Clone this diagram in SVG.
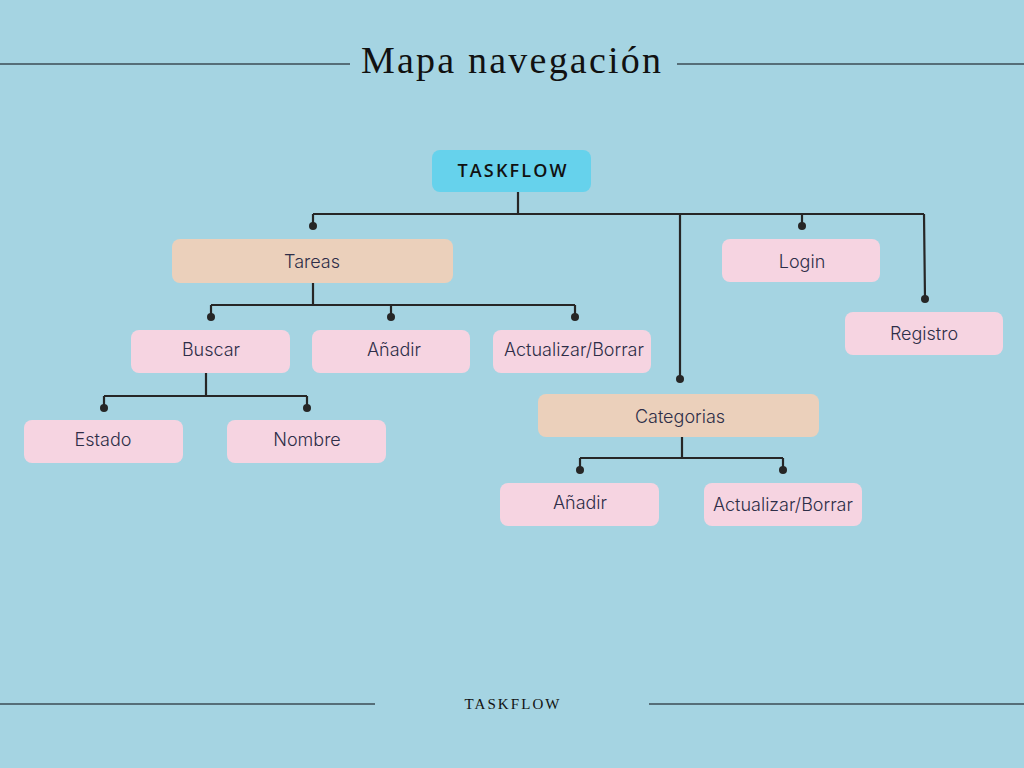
<svg xmlns="http://www.w3.org/2000/svg" width="1024" height="768" viewBox="0 0 1024 768">
<style>
.bg{fill:#a5d4e2}
.rule{stroke:#3d4d55;stroke-width:1.5}
.title{font-family:"Liberation Serif","DejaVu Serif",serif;fill:#111;text-anchor:middle}
.pink{fill:#f6d4e1}
.tan{fill:#ebd0bb}
.root{fill:#66d2ec}
.lbl{font-family:Inter,"Noto Sans",sans-serif;font-size:18px;font-weight:300;fill:#2e2e48;text-anchor:middle}
.rlbl{font-family:"Open Sans",Inter,sans-serif;font-size:18px;font-weight:600;fill:#111;text-anchor:middle}
.con{fill:none;stroke:#262626;stroke-width:2.2}
.dot{fill:#262626}
</style>
<rect class="bg" x="0" y="0" width="1024" height="768"/>
<line class="rule" x1="0" y1="64" x2="350" y2="64"/>
<line class="rule" x1="677" y1="64" x2="1024" y2="64"/>
<text class="title" x="511" y="73" font-size="38" textLength="300" lengthAdjust="spacing">Mapa navegación</text>
<line class="rule" x1="0" y1="704" x2="375" y2="704"/>
<line class="rule" x1="649" y1="704" x2="1024" y2="704"/>
<text class="title" x="512" y="709" font-size="15" textLength="95" lengthAdjust="spacing">TASKFLOW</text>

<g id="connectors">
<path class="con" d="M518,192 V214 M313,214 H924 M313,214 V226 M680,214 V379 M802,214 V226 M924,214 L925,299"/>
<circle class="dot" cx="313" cy="226" r="4"/>
<circle class="dot" cx="680" cy="379" r="4"/>
<circle class="dot" cx="802" cy="226" r="4"/>
<circle class="dot" cx="925" cy="299" r="4"/>
<path class="con" d="M313,283 V305 M211,305 H575 M211,305 V317 M391,305 V317 M575,305 V317"/>
<circle class="dot" cx="211" cy="317" r="4"/>
<circle class="dot" cx="391" cy="317" r="4"/>
<circle class="dot" cx="575" cy="317" r="4"/>
<path class="con" d="M206,373 V396 M104,396 H307 M104,396 V408 M307,396 V408"/>
<circle class="dot" cx="104" cy="408" r="4"/>
<circle class="dot" cx="307" cy="408" r="4"/>
<path class="con" d="M682,437 V458 M580,458 H783 M580,458 V470 M783,458 V470"/>
<circle class="dot" cx="580" cy="470" r="4"/>
<circle class="dot" cx="783" cy="470" r="4"/>
</g>

<g id="n-taskflow"><rect class="root" x="432" y="150" width="159" height="42" rx="8"/><text class="rlbl" x="512" y="177" textLength="109" lengthAdjust="spacing">TASKFLOW</text></g>
<g id="n-tareas"><rect class="tan" x="172" y="239" width="281" height="44" rx="8"/><text class="lbl" x="312" y="268">Tareas</text></g>
<g id="n-buscar"><rect class="pink" x="131" y="330" width="159" height="43" rx="8"/><text class="lbl" x="211" y="356">Buscar</text></g>
<g id="n-anadir1"><rect class="pink" x="312" y="330" width="158" height="43" rx="8"/><text class="lbl" x="394" y="356">Añadir</text></g>
<g id="n-actualizar1"><rect class="pink" x="493" y="330" width="158" height="43" rx="8"/><text class="lbl" x="574" y="356">Actualizar/Borrar</text></g>
<g id="n-estado"><rect class="pink" x="24" y="420" width="159" height="43" rx="8"/><text class="lbl" x="103" y="446">Estado</text></g>
<g id="n-nombre"><rect class="pink" x="227" y="420" width="159" height="43" rx="8"/><text class="lbl" x="307" y="446">Nombre</text></g>
<g id="n-categorias"><rect class="tan" x="538" y="394" width="281" height="43" rx="8"/><text class="lbl" x="680" y="423">Categorias</text></g>
<g id="n-anadir2"><rect class="pink" x="500" y="483" width="159" height="43" rx="8"/><text class="lbl" x="580" y="509">Añadir</text></g>
<g id="n-actualizar2"><rect class="pink" x="704" y="483" width="158" height="43" rx="8"/><text class="lbl" x="783" y="511">Actualizar/Borrar</text></g>
<g id="n-login"><rect class="pink" x="722" y="239" width="158" height="43" rx="8"/><text class="lbl" x="802" y="268">Login</text></g>
<g id="n-registro"><rect class="pink" x="845" y="312" width="158" height="43" rx="8"/><text class="lbl" x="924" y="340">Registro</text></g>
</svg>
